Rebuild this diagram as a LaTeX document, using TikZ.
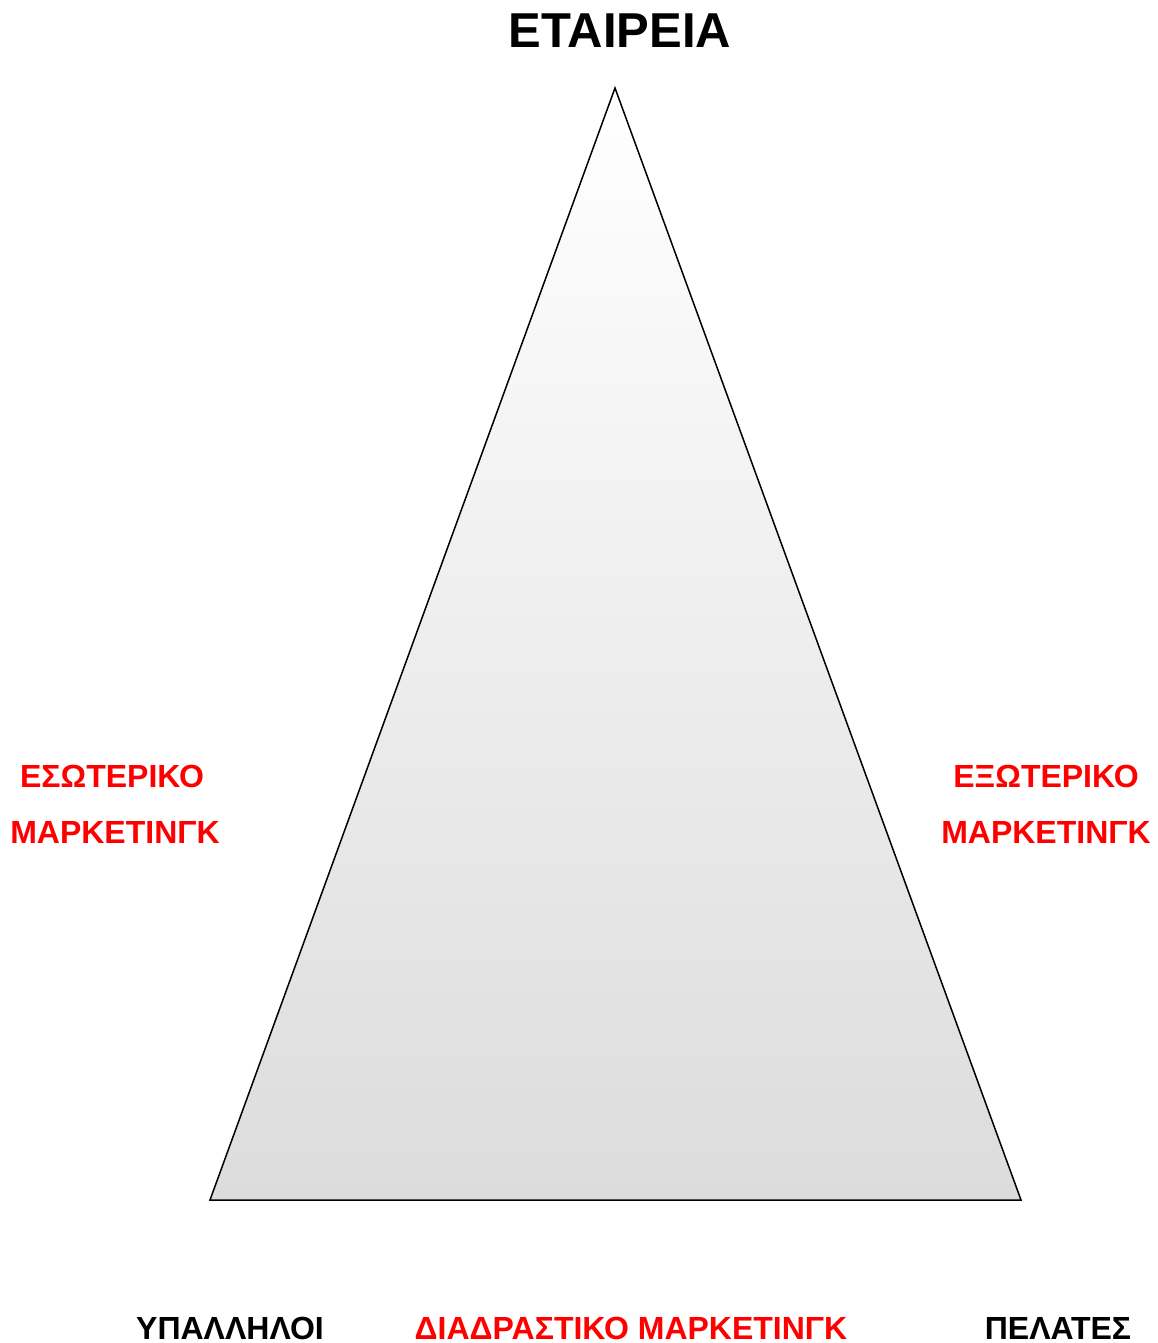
\documentclass[tikz,border=0pt]{standalone}
\usepackage{fontspec}
\setmainfont{Liberation Sans}
\definecolor{lbl}{RGB}{255,0,0}
\definecolor{bottomgray}{RGB}{220,220,220}
\begin{document}
\begin{tikzpicture}[x=1pt,y=-1pt,
  title/.style={font=\fontsize{49}{52}\selectfont\bfseries, anchor=base, inner sep=0pt},
  redlbl/.style={font=\fontsize{32}{35}\selectfont\bfseries, text=lbl, anchor=base, inner sep=0pt},
  blklbl/.style={font=\fontsize{32}{35}\selectfont\bfseries, text=black, anchor=base, inner sep=0pt},
  tri/.style={draw=black, line width=1.5pt, line join=miter, top color=white, bottom color=bottomgray}]
\useasboundingbox (0,0) rectangle (1158,1343);
\coordinate (apex) at (615,88);
\coordinate (bl) at (210,1200);
\coordinate (br) at (1021,1200);
\path[tri] (apex) -- (br) -- (bl) -- cycle;
\node[title] (company) at (620,48) {ΕΤΑΙΡΕΙΑ};
\node[redlbl] (int1) at (112,787) {ΕΣΩΤΕΡΙΚΟ};
\node[redlbl] (int2) at (115,843) {ΜΑΡΚΕΤΙΝΓΚ};
\node[redlbl] (ext1) at (1046,787) {ΕΞΩΤΕΡΙΚΟ};
\node[redlbl] (ext2) at (1046,843) {ΜΑΡΚΕΤΙΝΓΚ};
\node[blklbl] (emp) at (230,1339) {ΥΠΑΛΛΗΛΟΙ};
\node[redlbl] (inter) at (631,1339) {ΔΙΑΔΡΑΣΤΙΚΟ ΜΑΡΚΕΤΙΝΓΚ};
\node[blklbl] (cust) at (1058,1339) {ΠΕΛΑΤΕΣ};
\end{tikzpicture}
\end{document}
